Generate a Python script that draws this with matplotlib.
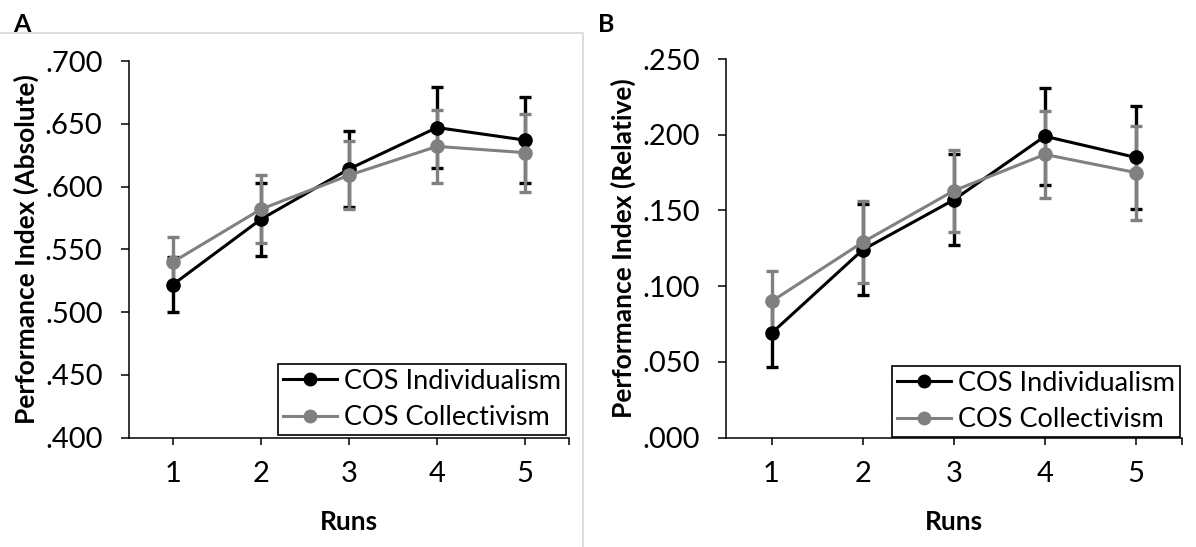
import matplotlib.pyplot as plt
from matplotlib.lines import Line2D

plt.rcParams['font.family'] = ['Lato', 'DejaVu Sans']

# ---------- Data ----------
runs = [1, 2, 3, 4, 5]

abs_indiv = [0.522, 0.574, 0.614, 0.647, 0.637]
abs_indiv_err = [0.022, 0.029, 0.030, 0.032, 0.034]
abs_coll = [0.540, 0.582, 0.609, 0.632, 0.627]
abs_coll_err = [0.020, 0.027, 0.027, 0.029, 0.031]

rel_indiv = [0.069, 0.124, 0.157, 0.199, 0.185]
rel_indiv_err = [0.022, 0.030, 0.030, 0.032, 0.034]
rel_coll = [0.090, 0.129, 0.163, 0.187, 0.175]
rel_coll_err = [0.020, 0.027, 0.027, 0.029, 0.031]

abs_ticks = [0.400, 0.450, 0.500, 0.550, 0.600, 0.650, 0.700]
rel_ticks = [0.000, 0.050, 0.100, 0.150, 0.200, 0.250]

BLACK = '#000000'
GREY = '#808080'

W, H = 1196, 547
fig = plt.figure(figsize=(W / 100, H / 100), dpi=100)


def px_box(left, top, right, bottom):
    return [left / W, 1 - bottom / H, (right - left) / W, (bottom - top) / H]


def draw_panel(ax, indiv, indiv_err, coll, coll_err, yticks, ylabel):
    for vals, errs, col in [(indiv, indiv_err, BLACK), (coll, coll_err, GREY)]:
        ax.errorbar(runs, vals, yerr=errs, fmt='none', ecolor=col,
                    elinewidth=2.4, capsize=4.5, capthick=2.4, zorder=2)
        ax.plot(runs, vals, color=col, lw=2.2, marker='o', ms=9.5,
                zorder=3)
    ax.set_xlim(0.5, 5.5)
    ax.set_ylim(yticks[0], yticks[-1])
    ax.set_yticks(yticks)
    ax.set_yticklabels([f'{v:.3f}'.lstrip('0') for v in yticks])
    ax.set_xticks(runs + [5.5])
    ax.set_xticklabels([str(r) for r in runs] + [''])
    for side in ['top', 'right']:
        ax.spines[side].set_visible(False)
    for side in ['left', 'bottom']:
        ax.spines[side].set_linewidth(1.1)
    ax.tick_params(axis='y', length=6, width=1.1, pad=13, labelsize=21)
    ax.tick_params(axis='x', length=5, width=1.1, pad=12, labelsize=21)
    ax.set_ylabel(ylabel, fontsize=19, fontweight='bold', labelpad=4)
    ax.set_xlabel('Runs', fontsize=19, fontweight='bold', labelpad=16)


def add_legend(ax, left, top):
    handles = [
        Line2D([], [], color=BLACK, lw=2.2, marker='o', ms=9),
        Line2D([], [], color=GREY, lw=2.2, marker='o', ms=9),
    ]
    leg = ax.legend(handles, ['COS Individualism', 'COS Collectivism'],
                    loc='upper left', bbox_to_anchor=(left / W, 1 - top / H),
                    bbox_transform=fig.transFigure, fontsize=19.5,
                    frameon=True, fancybox=False, framealpha=1,
                    edgecolor=BLACK, borderaxespad=0, borderpad=0.18,
                    handlelength=2.0, handletextpad=0.25, labelspacing=0.42)
    leg.get_frame().set_linewidth(1.2)


ax_a = fig.add_axes(px_box(129, 61, 569, 437.7))
draw_panel(ax_a, abs_indiv, abs_indiv_err, abs_coll, abs_coll_err,
           abs_ticks, 'Performance Index (Absolute)')
add_legend(ax_a, 278, 364)

ax_b = fig.add_axes(px_box(726, 59, 1181.5, 437.7))
draw_panel(ax_b, rel_indiv, rel_indiv_err, rel_coll, rel_coll_err,
           rel_ticks, 'Performance Index (Relative)')
add_legend(ax_b, 892, 366)

# light frame around the first panel
fig.add_artist(Line2D([0, 583 / W, 583 / W], [1 - 33 / H, 1 - 33 / H, 0],
                      transform=fig.transFigure, color='#d9d9d9', lw=1.3))

fig.text(13 / W, 1 - 25 / H, 'A', fontsize=18, fontweight='bold',
         va='center', ha='left')
fig.text(598 / W, 1 - 25 / H, 'B', fontsize=18, fontweight='bold',
         va='center', ha='left')

fig.savefig('out.png', dpi=100)
